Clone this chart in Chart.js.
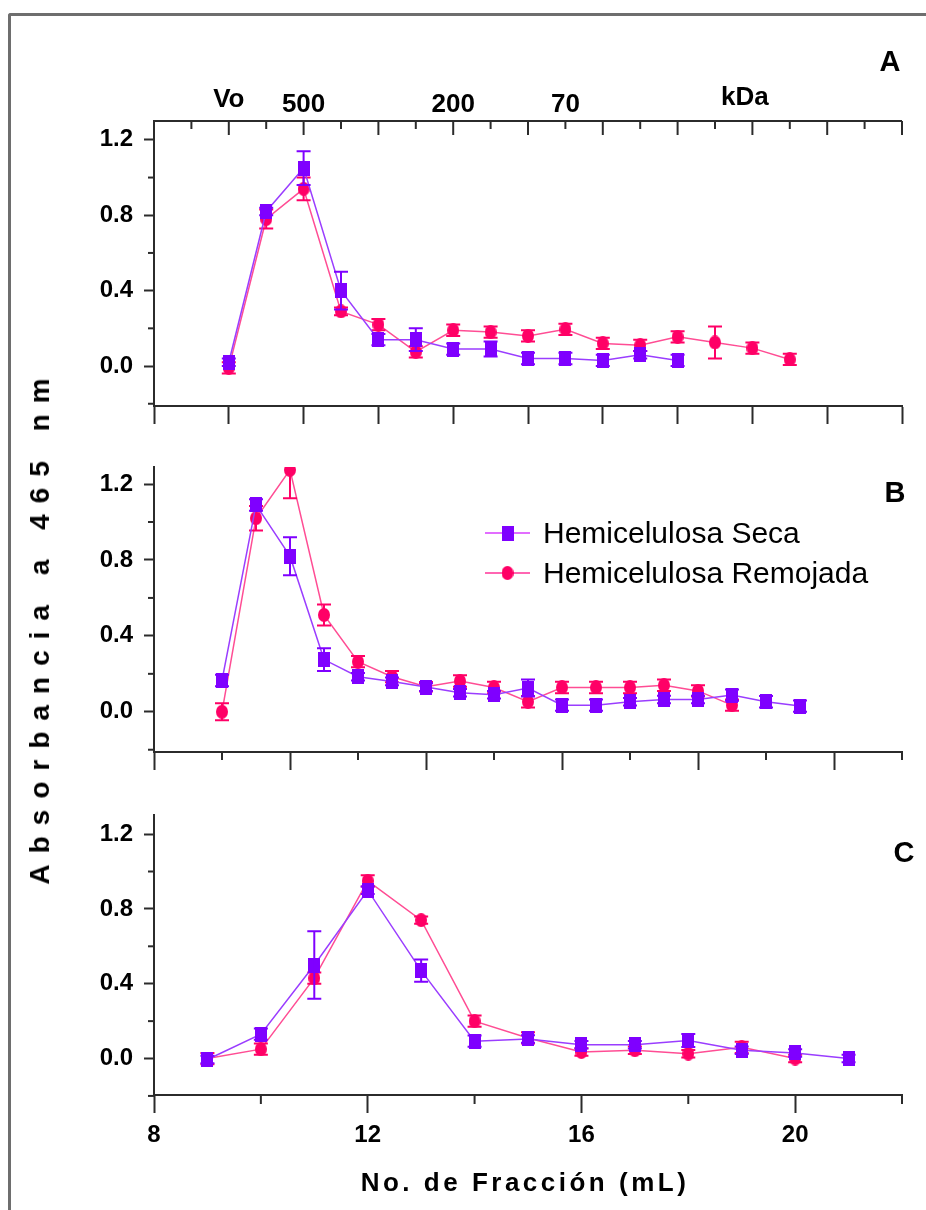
<!DOCTYPE html>
<html>
<head>
<meta charset="utf-8">
<script src="https://cdn.jsdelivr.net/npm/chart.js@4.4.1/dist/chart.umd.min.js"></script>
<style>
  body { margin: 0; background: #fff; }
  #page { position: relative; width: 926px; height: 1210px; overflow: hidden; background: #fff;
          font-family: "Liberation Sans", Arial, sans-serif; color: #000; }
  #frame { position: absolute; left: 8px; top: 13px; width: 1000px; height: 1300px;
           border-left: 3px solid #6e6e6e; border-top: 3px solid #6e6e6e; border-top-left-radius: 3px; }
  canvas { position: absolute; left: 0; }
  #yTitle { position: absolute; left: 40px; top: 626px; transform: translate(-50%, -50%) rotate(-90deg);
            font-weight: bold; font-size: 28px; letter-spacing: 11px; white-space: nowrap; line-height: 28px; }
  #xTitle { position: absolute; left: 525px; top: 1169px; transform: translateX(-50%);
            font-weight: bold; font-size: 26px; letter-spacing: 3.5px; white-space: nowrap; line-height: 26px; }
</style>
</head>
<body>
<div id="page">
  <div id="frame"></div>
  <canvas id="panelA" width="926" height="440" style="top:0"></canvas>
  <canvas id="panelB" width="926" height="350" style="top:440px"></canvas>
  <canvas id="panelC" width="926" height="420" style="top:790px"></canvas>
  <div id="yTitle">Absorbancia a 465 nm</div>
  <div id="xTitle">No. de Fracción (mL)</div>
</div>
<script>
    // ---------------------------
    // Data
    // ---------------------------
    // Panel A
    const fracA_seca = [10, 11, 12, 13, 14, 15, 16, 17, 18, 19, 20, 21, 22];
    const secaA      = [0.02, 0.82, 1.05, 0.40, 0.14, 0.14, 0.09, 0.09, 0.04, 0.04, 0.03, 0.06, 0.03];
    const secaA_err  = [0.02, 0.02, 0.09, 0.10, 0.03, 0.06, 0.03, 0.04, 0.03, 0.03, 0.03, 0.02, 0.03];
    const fracA_remo = [10, 11, 12, 13, 14, 15, 16, 17, 18, 19, 20, 21, 22, 23, 24, 25];
    const remoA      = [-0.01, 0.78, 0.94, 0.29, 0.22, 0.075, 0.19, 0.18, 0.16, 0.195, 0.12, 0.11, 0.155, 0.125, 0.095, 0.035];
    const remoA_err  = [0.03, 0.05, 0.06, 0.02, 0.03, 0.03, 0.03, 0.03, 0.03, 0.03, 0.03, 0.03, 0.03, 0.085, 0.03, 0.03];

    // Panel B
    const fracB_seca = [10, 11, 12, 13, 14, 15, 16, 17, 18, 19, 20, 21, 22, 23, 24, 25, 26, 27];
    const secaB      = [0.165, 1.09, 0.82, 0.275, 0.185, 0.16, 0.13, 0.10, 0.09, 0.125, 0.035, 0.035, 0.053, 0.065, 0.065, 0.088, 0.053, 0.03];
    const secaB_err  = [0.03, 0.03, 0.10, 0.06, 0.02, 0.02, 0.02, 0.02, 0.02, 0.045, 0.03, 0.03, 0.02, 0.02, 0.02, 0.03, 0.03, 0.03];
    const fracB_remo = [10, 11, 12, 13, 14, 15, 16, 17, 18, 19, 20, 21, 22, 23, 24, 25];
    const remoB      = [0.0, 1.02, 1.275, 0.51, 0.264, 0.185, 0.132, 0.162, 0.128, 0.053, 0.128, 0.128, 0.128, 0.14, 0.11, 0.035];
    const remoB_err  = [0.045, 0.065, 0.15, 0.055, 0.03, 0.03, 0.025, 0.03, 0.03, 0.03, 0.03, 0.03, 0.03, 0.03, 0.03, 0.03];

    // Panel C
    const fracC_seca = [9, 10, 11, 12, 13, 14, 15, 16, 17, 18, 19, 20, 21];
    const secaC      = [-0.005, 0.13, 0.50, 0.90, 0.47, 0.093, 0.105, 0.074, 0.074, 0.096, 0.044, 0.03, 0.0];
    const secaC_err  = [0.02, 0.03, 0.18, 0.02, 0.06, 0.03, 0.02, 0.02, 0.02, 0.035, 0.02, 0.02, 0.02];
    const fracC_remo = [9, 10, 11, 12, 13, 14, 15, 16, 17, 18, 19, 20];
    const remoC      = [0.0, 0.05, 0.43, 0.95, 0.74, 0.20, 0.11, 0.035, 0.044, 0.026, 0.06, 0.0];
    const remoC_err  = [0.03, 0.03, 0.03, 0.03, 0.02, 0.03, 0.03, 0.02, 0.02, 0.02, 0.03, 0.02];

    // molecular weight markers along the top of panel A
    const kdaLabels    = ["Vo", "500", "200", "70", "kDa"];
    const kdaPositions = [10, 12, 16, 19, 23.8];

    // axis ticks
    const yMajor = [0, 0.4, 0.8, 1.2];
    const yMinor = [-0.2, 0.2, 0.6, 1.0];
    const xTicksA = [8, 10, 12, 14, 16, 18, 20, 22, 24, 26, 28];
    const xTopMinorA = [9, 11, 13, 15, 17, 19, 21, 23, 25, 27];
    const xMajorB = [8, 12, 16, 20, 24, 28];
    const xMinorB = [10, 14, 18, 22, 26, 30];
    const xMajorC = [8, 12, 16, 20];
    const xMinorC = [10, 14, 18, 22];

    // ---------------------------
    // Styles
    // ---------------------------
    const AXIS = "#2b2b2b";
    const SECA_MARK = "#7f00ff", SECA_LINE = "#9a3dff", SECA_KEY = "#d93dff";
    const REMO_MARK = "#ff0066", REMO_LINE = "#ff4d94", REMO_KEY = "#ff3399";
    const FONT = "'Liberation Sans', Arial, sans-serif";

    function markerImage(shape, color, w, h) {
      const c = document.createElement("canvas");
      c.width = w; c.height = h;
      const g = c.getContext("2d");
      g.fillStyle = color;
      if (shape === "rect") {
        g.fillRect(0, 0, w, h);
      } else {
        g.beginPath();
        g.ellipse(w / 2, h / 2, w / 2, h / 2, 0, 0, Math.PI * 2);
        g.fill();
      }
      return c;
    }
    const secaMarker = markerImage("rect", SECA_MARK, 12, 15);
    const remoMarker = markerImage("ellipse", REMO_MARK, 12, 14);

    function series(label, xs, ys, errs, line, mark, img) {
      return {
        label: label,
        data: xs.map((x, i) => ({ x: x, y: ys[i] })),
        errors: errs,
        errColor: mark,
        borderColor: line,
        borderWidth: 1.5,
        pointStyle: img,
        pointRadius: 6,
        pointBackgroundColor: mark,
        pointBorderColor: mark,
        tension: 0
      };
    }

    // ---------------------------
    // Plugins
    // ---------------------------
    const errorBars = {
      id: "errorBars",
      afterDatasetDraw(chart, args) {
        const ds = chart.data.datasets[args.index];
        if (!ds.errors) return;
        const ctx = chart.ctx, ys = chart.scales.y, a = chart.chartArea;
        ctx.save();
        ctx.beginPath();
        ctx.rect(a.left, a.top, a.right - a.left, a.bottom - a.top);
        ctx.clip();
        ctx.strokeStyle = ds.errColor;
        ctx.lineWidth = 2;
        args.meta.data.forEach((pt, i) => {
          const v = ds.data[i].y, e = ds.errors[i];
          const top = ys.getPixelForValue(v + e), bot = ys.getPixelForValue(v - e);
          ctx.beginPath();
          ctx.moveTo(pt.x, top); ctx.lineTo(pt.x, bot);
          ctx.moveTo(pt.x - 7, top); ctx.lineTo(pt.x + 7, top);
          ctx.moveTo(pt.x - 7, bot); ctx.lineTo(pt.x + 7, bot);
          ctx.stroke();
        });
        ctx.restore();
      }
    };

    const extraTicks = {
      id: "extraTicks",
      afterDraw(chart, args, opts) {
        const ctx = chart.ctx, a = chart.chartArea;
        ctx.save();
        ctx.strokeStyle = AXIS;
        ctx.lineWidth = 2;
        if (opts.topLine) {
          ctx.beginPath();
          ctx.moveTo(a.left, a.top); ctx.lineTo(a.right, a.top);
          ctx.stroke();
        }
        (opts.marks || []).forEach(m => {
          const sc = chart.scales[m.axis];
          m.values.forEach(v => {
            const p = sc.getPixelForValue(v);
            ctx.beginPath();
            if (m.side === "left") { ctx.moveTo(a.left, p); ctx.lineTo(a.left - m.len, p); }
            if (m.side === "bottom") { ctx.moveTo(p, a.bottom); ctx.lineTo(p, a.bottom + m.len); }
            if (m.side === "top") { ctx.moveTo(p, a.top); ctx.lineTo(p, a.top + m.len); }
            ctx.stroke();
          });
        });
        ctx.restore();
      }
    };

    const panelText = {
      id: "panelText",
      afterDraw(chart, args, opts) {
        const ctx = chart.ctx;
        ctx.save();
        ctx.fillStyle = "#000";
        ctx.textBaseline = "alphabetic";
        (opts.items || []).forEach(t => {
          ctx.font = t.font;
          ctx.textAlign = t.align || "center";
          const x = t.xValue !== undefined ? chart.scales.x.getPixelForValue(t.xValue) : t.x;
          ctx.fillText(t.text, x, t.y);
        });
        // legend drawn inside the plot
        (opts.legend || []).forEach(k => {
          const ds = chart.data.datasets[k.dataset];
          ctx.strokeStyle = k.keyColor;
          ctx.lineWidth = 1.5;
          ctx.beginPath();
          ctx.moveTo(k.x0, k.y); ctx.lineTo(k.x1, k.y);
          ctx.stroke();
          Chart.helpers.drawPoint(ctx, { pointStyle: ds.pointStyle, radius: 6, rotation: 0 }, (k.x0 + k.x1) / 2, k.y);
          ctx.font = "30px " + FONT;
          ctx.textAlign = "left";
          ctx.fillText(ds.label, k.textX, k.y + 10);
        });
        ctx.restore();
      }
    };

    Chart.register(errorBars, extraTicks, panelText);

    // ---------------------------
    // Panel builder
    // ---------------------------
    function buildPanel(id, p) {
      return new Chart(document.getElementById(id), {
        type: "line",
        data: {
          datasets: [
            series("Hemicelulosa Seca", p.xs1, p.ys1, p.e1, SECA_LINE, SECA_MARK, secaMarker),
            series("Hemicelulosa Remojada", p.xs2, p.ys2, p.e2, REMO_LINE, REMO_MARK, remoMarker)
          ]
        },
        options: {
          responsive: false,
          animation: false,
          events: [],
          layout: { padding: { top: p.padTop, right: 24, bottom: 0, left: 0 } },
          plugins: {
            legend: { display: false },
            tooltip: { enabled: false },
            extraTicks: { topLine: p.topLine, marks: p.marks },
            panelText: { items: p.texts, legend: p.legend || [] }
          },
          scales: {
            x: {
              type: "linear",
              min: p.xMin, max: p.xMax,
              afterBuildTicks: s => { s.ticks = p.xTicks.map(v => ({ value: v })); },
              afterFit: s => { s.height = p.xHeight; },
              grid: { drawOnChartArea: false, drawTicks: true, tickLength: 18, tickColor: AXIS, tickWidth: 2 },
              border: { display: true, color: AXIS, width: 2 },
              ticks: {
                display: p.xLabels, autoSkip: false, maxRotation: 0, padding: 8, color: "#000",
                font: { family: FONT, size: 24, weight: "bold" }
              }
            },
            y: {
              min: p.yMin, max: p.yMax,
              afterBuildTicks: s => { s.ticks = yMajor.map(v => ({ value: v })); },
              afterFit: s => { s.width = 154; },
              grid: { drawOnChartArea: false, drawTicks: true, tickLength: 10, tickColor: AXIS, tickWidth: 2 },
              border: { display: true, color: AXIS, width: 2 },
              ticks: {
                padding: 11, color: "#000",
                font: { family: FONT, size: 24, weight: "bold" },
                callback: v => v.toFixed(1)
              }
            }
          }
        }
      });
    }

    const yMinorMark = { axis: "y", side: "left", len: 6, values: yMinor };

    buildPanel("panelA", {
      xs1: fracA_seca, ys1: secaA, e1: secaA_err,
      xs2: fracA_remo, ys2: remoA, e2: remoA_err,
      padTop: 121, xHeight: 34, xMin: 8, xMax: 28, xTicks: xTicksA, xLabels: false,
      yMin: -0.212, yMax: 1.30,
      topLine: true,
      marks: [
        yMinorMark,
        { axis: "x", side: "top", len: 14, values: xTicksA },
        { axis: "x", side: "top", len: 8, values: xTopMinorA }
      ],
      texts: kdaLabels.map((t, i) => ({
        text: t, xValue: kdaPositions[i], y: (t === "kDa" ? 105 : t === "Vo" ? 107 : 112),
        font: "bold 26px " + FONT
      })).concat([{ text: "A", x: 890, y: 71, font: "bold 29px " + FONT }])
    });

    buildPanel("panelB", {
      xs1: fracB_seca, ys1: secaB, e1: secaB_err,
      xs2: fracB_remo, ys2: remoB, e2: remoB_err,
      padTop: 27, xHeight: 38, xMin: 8, xMax: 30, xTicks: xMajorB, xLabels: false,
      yMin: -0.212, yMax: 1.29,
      topLine: false,
      marks: [yMinorMark, { axis: "x", side: "bottom", len: 8, values: xMinorB }],
      texts: [{ text: "B", x: 895, y: 62, font: "bold 29px " + FONT }],
      legend: [
        { dataset: 0, x0: 485, x1: 530, y: 93, textX: 543, keyColor: SECA_KEY },
        { dataset: 1, x0: 485, x1: 530, y: 133, textX: 543, keyColor: REMO_KEY }
      ]
    });

    buildPanel("panelC", {
      xs1: fracC_seca, ys1: secaC, e1: secaC_err,
      xs2: fracC_remo, ys2: remoC, e2: remoC_err,
      padTop: 21, xHeight: 115, xMin: 8, xMax: 22, xTicks: xMajorC, xLabels: true,
      yMin: -0.195, yMax: 1.30,
      topLine: false,
      marks: [yMinorMark, { axis: "x", side: "bottom", len: 9, values: xMinorC }],
      texts: [{ text: "C", x: 904, y: 72, font: "bold 29px " + FONT }]
    });
</script>
</body>
</html>
